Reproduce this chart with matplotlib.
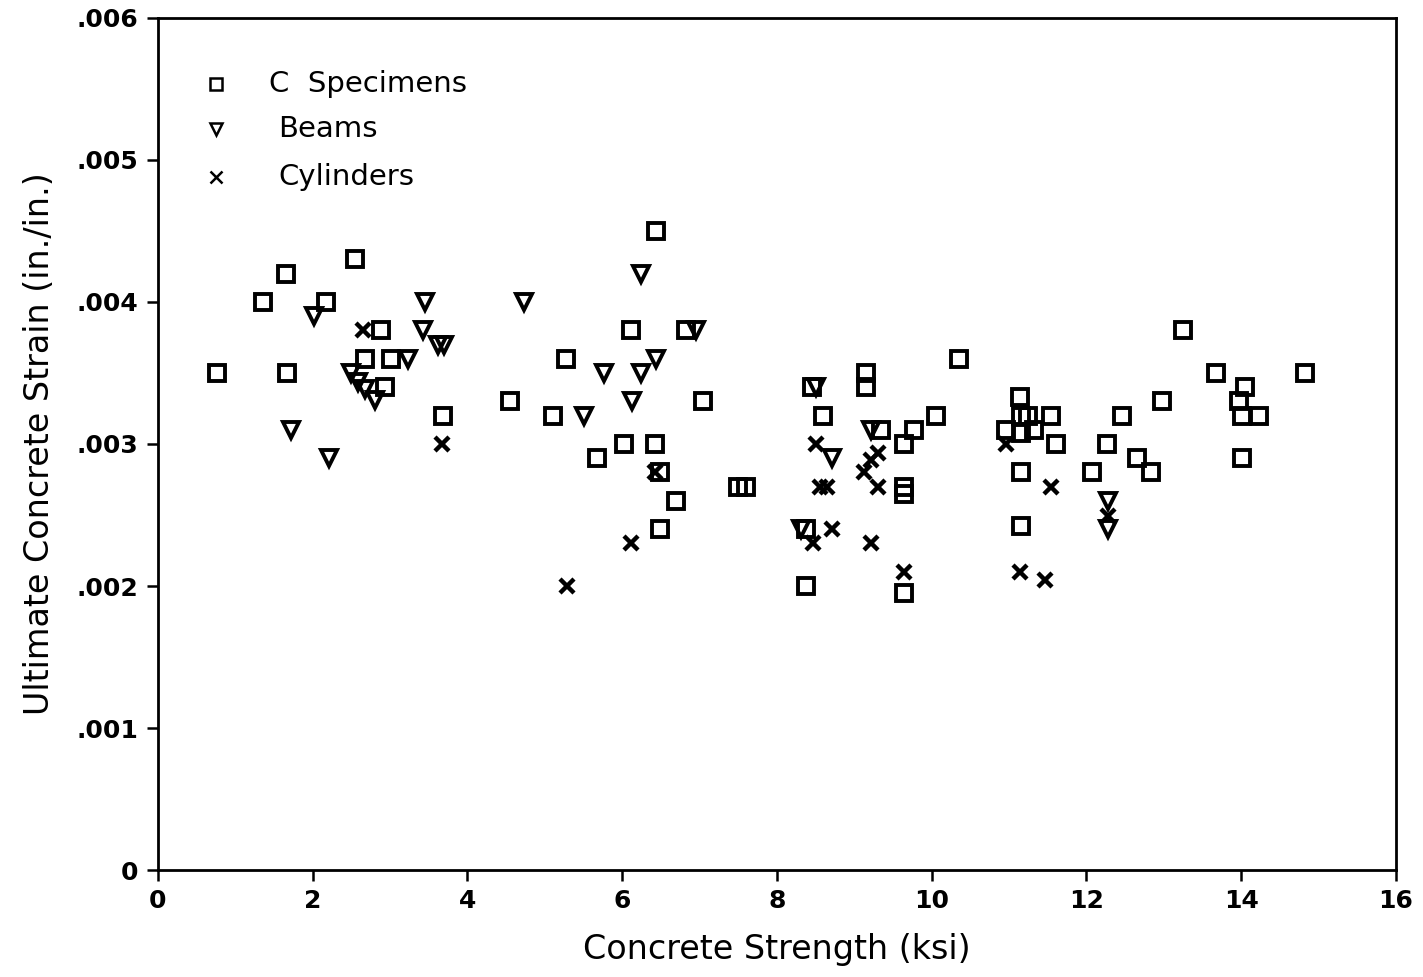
import numpy as np
import matplotlib.pyplot as plt
from matplotlib.ticker import FixedLocator

# C specimens (ksi, in./in.)
c_x = [0.76, 1.36, 1.66, 1.67, 2.17, 2.55, 2.88, 2.68, 3.01, 2.94, 3.69, 4.55,
       6.44, 6.11, 6.83, 5.27, 5.10, 7.05, 6.02, 6.43, 5.68, 6.49, 7.50, 7.60, 6.69, 6.49,
       10.35, 9.15, 9.15, 8.45, 8.60, 9.35, 9.77, 9.64, 10.05, 9.64, 9.64, 8.37, 8.37, 9.64,
       11.14, 11.15, 11.25, 11.54, 10.96, 11.15, 11.32, 11.60, 11.15, 11.15,
       12.46, 12.98, 13.25, 13.67, 14.05, 13.97, 14.01, 14.23, 14.01, 14.83,
       12.26, 12.07, 12.65, 12.83]
c_y = [.0035, .0040, .0042, .0035, .0040, .0043, .0038, .0036, .0036, .0034, .0032, .0033,
       .0045, .0038, .0038, .0036, .0032, .0033, .0030, .0030, .0029, .0028, .0027, .0027, .0026, .0024,
       .0036, .0035, .0034, .0034, .0032, .0031, .0031, .0030, .0032, .0027, .00265, .0024, .0020, .00195,
       .00333, .0032, .0032, .0032, .0031, .00308, .0031, .0030, .0028, .00242,
       .0032, .0033, .0038, .0035, .0034, .0033, .0032, .0032, .0029, .0035,
       .0030, .0028, .0029, .0028]

# Beams
b_x = [2.02, 3.45, 3.42, 3.62, 3.70, 3.23, 2.50, 2.59, 2.67, 2.81, 1.72, 2.21, 4.73,
       6.24, 6.95, 6.44, 5.76, 6.24, 6.13, 5.51,
       8.50, 9.22, 8.71, 8.31, 12.28, 12.28]
b_y = [.0039, .0040, .0038, .0037, .0037, .0036, .0035, .00344, .00339, .00331, .0031, .0029, .0040,
       .0042, .0038, .0036, .0035, .0035, .0033, .0032,
       .0034, .0031, .0029, .0024, .0026, .0024]

# Cylinders
x_x = [2.65, 3.67, 6.43, 6.11, 5.29,
       8.50, 8.55, 8.65, 8.47, 8.71, 9.22, 9.31, 9.21, 9.12, 9.31, 9.64,
       10.96, 11.54, 11.14, 11.46, 12.28]
x_y = [.0038, .0030, .0028, .0023, .0020,
       .0030, .0027, .0027, .0023, .0024, .0023, .00294, .00289, .0028, .0027, .0021,
       .0030, .0027, .0021, .00204, .00249]

fig = plt.figure(figsize=(14.23, 9.77), dpi=100)
ax = fig.add_axes([0.111, 0.1095, 0.870, 0.8721])

mk = dict(linestyle='none', color='black', markerfacecolor='none', markeredgewidth=2.8)
ax.plot(c_x, c_y, marker='s', markersize=11.5, **mk)
ax.plot(b_x, b_y, marker='v', markersize=11, **mk)
ax.plot(x_x, x_y, marker='x', markersize=10.5, linestyle='none', color='black',
        markeredgewidth=3.2)

ax.set_xlim(0, 16)
ax.set_ylim(0, 0.006)
ax.xaxis.set_major_locator(FixedLocator(np.arange(0, 17, 2)))
ax.yaxis.set_major_locator(FixedLocator([0, .001, .002, .003, .004, .005, .006]))
ax.set_yticklabels(['0', '.001', '.002', '.003', '.004', '.005', '.006'])
ax.tick_params(direction='out', length=8, width=1.8, labelsize=18, pad=6)
for lab in ax.get_xticklabels() + ax.get_yticklabels():
    lab.set_fontweight('bold')
for s in ax.spines.values():
    s.set_linewidth(2)

ax.set_xlabel('Concrete Strength (ksi)', fontsize=24, labelpad=14)
ax.set_ylabel('Ultimate Concrete Strain (in./in.)', fontsize=24, labelpad=15)

# legend drawn as markers + text in axes coords
leg_y = [0.922, 0.870, 0.813]
leg_m = ['s', 'v', 'x']
leg_t = ['C  Specimens', 'Beams', 'Cylinders']
leg_tx = [0.090, 0.097, 0.097]
for yy, m, t, tx in zip(leg_y, leg_m, leg_t, leg_tx):
    ax.plot([0.047], [yy], marker=m, markersize=8, linestyle='none', color='black',
            markerfacecolor='none', markeredgewidth=1.8, transform=ax.transAxes)
    ax.text(tx, yy, t, transform=ax.transAxes, fontsize=21, va='center', ha='left')

fig.savefig('out.png', dpi=100)
